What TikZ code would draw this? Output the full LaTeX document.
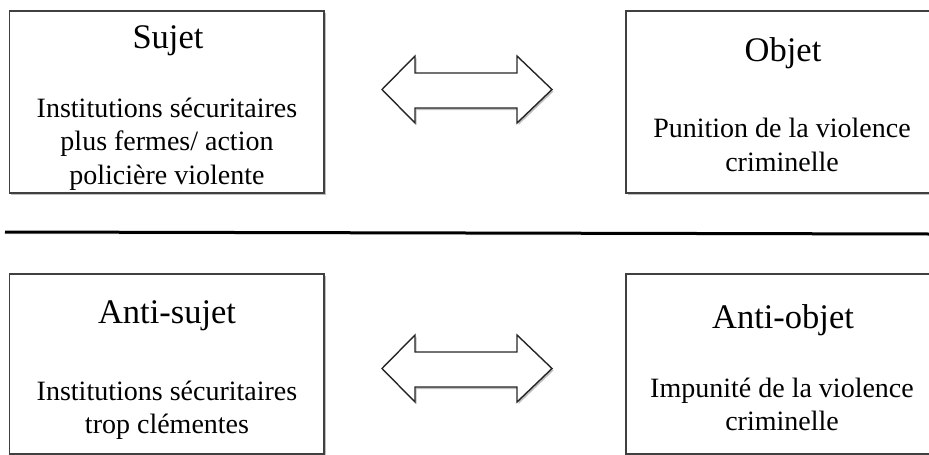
\documentclass[tikz,border=0pt]{standalone}
\usepackage{fontspec}
\setmainfont{Liberation Serif}
\usetikzlibrary{shadows}
\tikzset{
  box/.style={draw=black!75, line width=1.4pt, fill=white, rectangle, inner sep=0pt,
    drop shadow={shadow xshift=1.5pt, shadow yshift=-2pt, opacity=0.25, fill=black}},
  titletext/.style={anchor=base, font=\fontsize{34.5}{40}\selectfont, inner sep=0pt},
  bodytext/.style={anchor=base, font=\fontsize{28}{33.5}\selectfont, inner sep=0pt, align=center},
  dblarrow/.style={draw=black!85, line width=1.4pt, fill=white, line join=miter,
    drop shadow={shadow xshift=1.5pt, shadow yshift=-2pt, opacity=0.25, fill=black}},
  divider/.style={line width=3pt, black}
}
\begin{document}
\begin{tikzpicture}[x=1pt, y=-1pt]
\useasboundingbox (0,0) rectangle (929,455);
% boxes
\node[box, minimum width=314.5pt, minimum height=182pt] (sujet) at (166.75,102) {};
\node[box, minimum width=314pt, minimum height=182pt] (objet) at (783,102) {};
\node[box, minimum width=314.5pt, minimum height=180pt] (antisujet) at (166.75,364) {};
\node[box, minimum width=314pt, minimum height=180pt] (antiobjet) at (783,364) {};
% titles
\node[titletext] (tsujet) at (168,48) {Sujet};
\node[titletext] (tobjet) at (783,61) {Objet};
\node[titletext] (tantisujet) at (167,323) {Anti-sujet};
\node[titletext] (tantiobjet) at (783,328) {Anti-objet};
% body texts
\node[bodytext] (bsujet1) at (167,117) {Institutions sécuritaires};
\node[bodytext] (bsujet2) at (167,150.5) {plus fermes/ action};
\node[bodytext] (bsujet3) at (167,184) {policière violente};
\node[bodytext] (bobjet1) at (782,137) {Punition de la violence};
\node[bodytext] (bobjet2) at (782,171) {criminelle};
\node[bodytext] (bas1) at (167,400) {Institutions sécuritaires};
\node[bodytext] (bas2) at (167,433) {trop clémentes};
\node[bodytext] (bao1) at (782,397) {Impunité de la violence};
\node[bodytext] (bao2) at (782,430) {criminelle};
% double arrows
\draw[dblarrow] (382,89.5) -- (415,56) -- (415,73) -- (517,73) -- (517,56) -- (552,89.5)
  -- (517,123) -- (517,108) -- (415,108) -- (415,123) -- cycle;
\draw[dblarrow] (382,368.5) -- (415,335) -- (415,352) -- (517,352) -- (517,335) -- (552,368.5)
  -- (517,402) -- (517,387) -- (415,387) -- (415,402) -- cycle;
% divider
\coordinate (dl) at (5,232);
\coordinate (dr) at (929,234);
\draw[divider, drop shadow={shadow xshift=0pt, shadow yshift=-2pt, opacity=0.2, fill=black}] (dl) -- (dr);
\end{tikzpicture}
\end{document}
